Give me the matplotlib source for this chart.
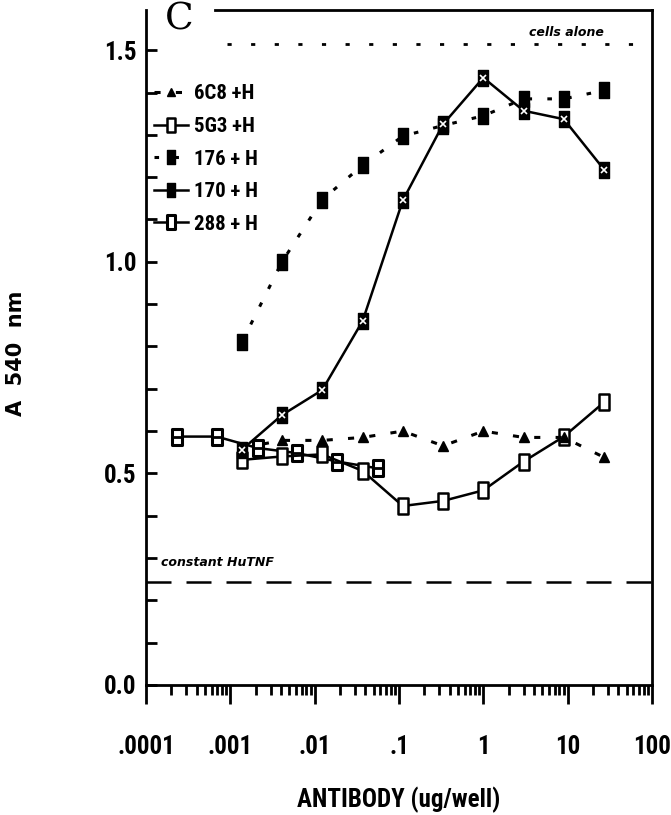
import matplotlib
matplotlib.use('Agg')
import matplotlib.pyplot as plt
from matplotlib.path import Path
from matplotlib import font_manager
from matplotlib.font_manager import FontProperties
from matplotlib.ticker import LogLocator, NullFormatter, MultipleLocator

# antibody dose (ug/well) and absorbance at 540 nm
dose = [0.00137, 0.0041, 0.0123, 0.037, 0.111, 0.333, 1, 3, 9, 27]
a_6c8 = [0.56, 0.578, 0.578, 0.585, 0.60, 0.565, 0.60, 0.585, 0.585, 0.538]
a_5g3 = [0.532, 0.54, 0.545, 0.506, 0.423, 0.435, 0.46, 0.528, 0.587, 0.668]
a_176 = [0.81, 1.0, 1.147, 1.228, 1.297, 1.322, 1.345, 1.385, 1.385, 1.405]
a_170 = [0.556, 0.638, 0.697, 0.86, 1.145, 1.325, 1.435, 1.357, 1.337, 1.218]
dose_288 = [0.00023, 0.00069, 0.0021, 0.0062, 0.0186, 0.056]
a_288 = [0.587, 0.587, 0.56, 0.548, 0.528, 0.512]

cells_alone = 1.515
const_hutnf = 0.243

xticks = [1e-4, 1e-3, 1e-2, 1e-1, 1, 10, 100]
xlabels = ['.0001', '.001', '.01', '.1', '1', '10', '100']
yticks = [0.0, 0.5, 1.0, 1.5]
ylabels = ['0.0', '0.5', '1.0', '1.5']
series_names = ['6C8 +H', '5G3 +H', '176 + H', '170 + H', '288 + H']


def pick_narrow():
    # the original uses a heavy condensed face; take the narrowest one around
    fl = font_manager.fontManager.ttflist
    names = {f.name for f in fl}
    for name in ['Liberation Sans Narrow', 'Roboto Condensed', 'Open Sans Condensed']:
        if name in names:
            return dict(family=name), 1.0
    for name in ['Roboto', 'Open Sans', 'Noto Sans', 'DejaVu Sans']:
        for f in fl:
            if f.name == name and 'condensed' in str(f.stretch):
                return dict(family=name, stretch=f.stretch), 0.9
    return dict(family='DejaVu Sans'), 0.75


narrow, k = pick_narrow()
tickfont = FontProperties(weight='bold', size=18 * k, **narrow)
legfont = FontProperties(weight='bold', size=15 * k, **narrow)

# tall rectangle marker like the original plot symbols
rect = Path([(-0.62, -1), (0.62, -1), (0.62, 1), (-0.62, 1), (-0.62, -1)],
            [Path.MOVETO, Path.LINETO, Path.LINETO, Path.LINETO, Path.CLOSEPOLY])

fig = plt.figure(figsize=(6.71, 8.15), dpi=100)
ax = fig.add_axes([146 / 671, 1 - 685 / 815, 506 / 671, 675 / 815])

# reference lines
ax.axhline(cells_alone, xmin=0.16, color='k', lw=2, ls=(0, (1.5, 7)))
ax.axhline(const_hutnf, color='k', lw=1.8, ls=(0, (10, 6)))

h288, = ax.plot(dose_288, a_288, '-', color='k', lw=1.8, marker=rect, ms=12,
                mfc='white', mec='k', mew=2.2, zorder=3)
ax.plot(dose_288, a_288, ls='none', marker='_', ms=6, mec='k', mew=2, zorder=4)

h5g3, = ax.plot(dose, a_5g3, '-', color='k', lw=1.8, marker=rect, ms=12,
                mfc='white', mec='k', mew=1.8, zorder=3)

h6c8, = ax.plot(dose, a_6c8, color='k', lw=2.2, ls=(0, (2, 5)), marker='^', ms=7,
                mfc='k', mec='k', zorder=4)

h176, = ax.plot(dose, a_176, color='k', lw=2.2, ls=(0, (1.5, 5)), marker=rect, ms=12,
                mfc='k', mec='k', zorder=3)

h170, = ax.plot(dose, a_170, '-', color='k', lw=1.8, marker=rect, ms=12,
                mfc='k', mec='k', zorder=4)
ax.plot(dose, a_170, ls='none', marker='x', ms=5, mec='white', mew=1.2, zorder=5)

ax.set_xscale('log')
ax.set_xlim(1e-4, 100)
ax.set_ylim(0, 1.595)

ax.set_xticks(xticks)
ax.set_xticklabels(xlabels, fontproperties=tickfont)
ax.xaxis.set_minor_locator(LogLocator(base=10, subs=range(2, 10)))
ax.xaxis.set_minor_formatter(NullFormatter())
ax.tick_params(axis='x', which='major', direction='out', length=14, width=2, pad=22)
ax.tick_params(axis='x', which='minor', direction='out', length=7, width=2)

ax.set_yticks(yticks)
ax.set_yticklabels(ylabels, fontproperties=tickfont)
ax.yaxis.set_minor_locator(MultipleLocator(0.1))
ax.tick_params(axis='y', which='both', direction='in', length=8, width=2, pad=7)

for s in ['left', 'right', 'bottom']:
    ax.spines[s].set_linewidth(2)
ax.spines['top'].set_visible(False)
ax.axhline(1.595, xmin=0.136, color='k', lw=2, clip_on=False)

fig.text(179 / 671, 1 - 1 / 815, 'C', ha='center', va='top',
         fontsize=27, family='DejaVu Serif')
ax.text(0.905, 0.967, 'cells alone', transform=ax.transAxes, ha='right', va='center',
        fontsize=9, weight='bold', style='italic')
ax.text(0.03, 0.181, 'constant HuTNF', transform=ax.transAxes, ha='left', va='center',
        fontsize=9, weight='bold', style='italic')

ax.legend([h6c8, h5g3, h176, h170, h288], series_names,
          loc='upper left', bbox_to_anchor=(0.0, 0.902), borderaxespad=0,
          frameon=False, handlelength=1.6, handletextpad=0.3, labelspacing=0.65,
          markerscale=0.8, prop=legfont)

ax.set_xlabel('ANTIBODY (ug/well)', fontproperties=tickfont)
ax.xaxis.set_label_coords(0.5, -0.15)
fig.text(0.024, 0.567, 'A  540  nm', rotation=90, ha='center', va='center',
         fontsize=15, weight='bold')

fig.savefig('out.png', dpi=100)
